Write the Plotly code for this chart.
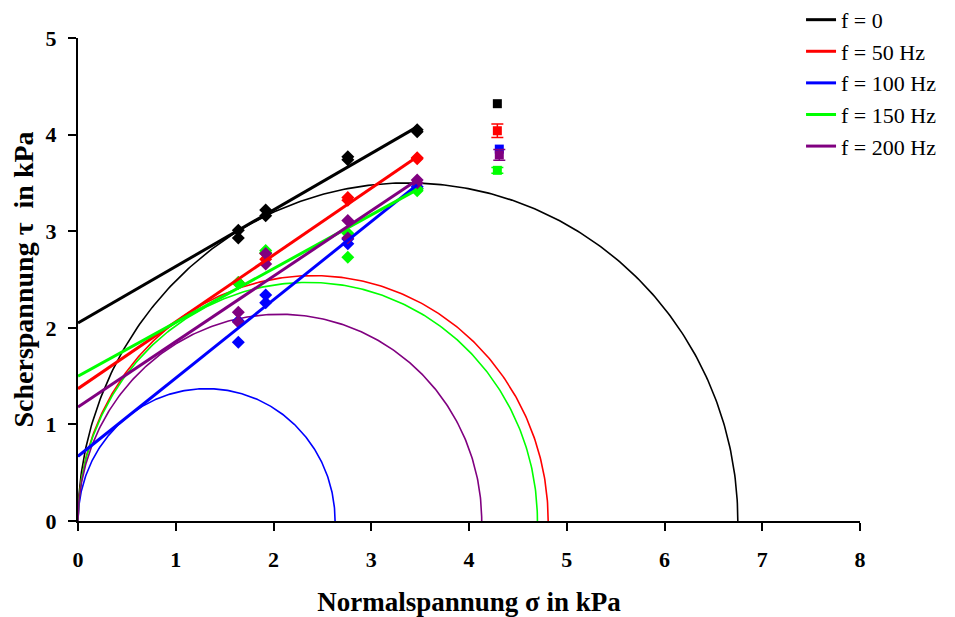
import numpy as np
import plotly.graph_objects as go

# ---------------- data ----------------
names = ["f = 0", "f = 50 Hz", "f = 100 Hz", "f = 150 Hz", "f = 200 Hz"]
colors = ["#000000", "#ff0000", "#0000ff", "#00ff00", "#800080"]

# measured points (normal stress, shear stress) in kPa
sigma_pts = [1.64, 1.64, 1.92, 1.92, 2.76, 2.76, 3.47, 3.47]
tau_f0 = [3.01, 2.93, 3.22, 3.16, 3.77, 3.74, 4.05, 4.03]
tau_f50 = [2.47, 2.46, 2.77, 2.71, 3.35, 3.32, 3.76, 3.75]
tau_f100 = [2.07, 1.85, 2.34, 2.26, 2.92, 2.87, 3.46, 3.44]
tau_f150 = [2.47, 2.46, 2.80, 2.78, 2.98, 2.73, 3.44, 3.42]
tau_f200 = [2.16, 2.06, 2.77, 2.66, 3.11, 2.93, 3.53, 3.50]
tau_pts = [tau_f0, tau_f50, tau_f100, tau_f150, tau_f200]

# yield loci (linear fits): start / end of each line
line_sigma = [0.0, 3.47]
line_tau_start = [2.05, 1.37, 0.67, 1.50, 1.18]
line_tau_end = [4.08, 3.77, 3.48, 3.43, 3.53]

# Mohr circles: major principal stress and peak height
circle_sigma1 = [6.75, 4.81, 2.63, 4.70, 4.13]
circle_peak = [3.50, 2.54, 1.37, 2.47, 2.14]

# end points (squares with error bars)
end_sigma = [4.29, 4.29, 4.31, 4.29, 4.31]
end_tau = [4.32, 4.04, 3.85, 3.63, 3.79]
end_err = [0.0, 0.07, 0.0, 0.03, 0.055]

x_ticks = [0, 1, 2, 3, 4, 5, 6, 7, 8]
y_ticks = [0, 1, 2, 3, 4, 5]

FONT = "Liberation Serif"

fig = go.Figure()

# Mohr semicircles
for i in range(5):
    r = circle_sigma1[i] / 2.0
    t = np.linspace(np.pi, 0, 300)
    xs = r + r * np.cos(t)
    ys = circle_peak[i] * np.sin(t)
    fig.add_trace(go.Scatter(x=xs, y=ys, mode="lines",
                             line=dict(color=colors[i], width=1.6),
                             showlegend=False, hoverinfo="skip"))

# measured points
for i in range(5):
    fig.add_trace(go.Scatter(x=sigma_pts, y=tau_pts[i], mode="markers",
                             marker=dict(symbol="diamond", size=10, color=colors[i]),
                             showlegend=False))

# yield loci
for i in range(5):
    fig.add_trace(go.Scatter(x=line_sigma, y=[line_tau_start[i], line_tau_end[i]],
                             mode="lines", name=names[i],
                             line=dict(color=colors[i], width=3)))

# end points with error bars
for i in range(5):
    fig.add_trace(go.Scatter(x=[end_sigma[i]], y=[end_tau[i]], mode="markers",
                             marker=dict(symbol="square", size=9, color=colors[i]),
                             error_y=dict(type="data", array=[end_err[i]],
                                          visible=end_err[i] > 0,
                                          color=colors[i], thickness=1.5, width=6),
                             showlegend=False))

fig.update_layout(
    width=947, height=609,
    margin=dict(l=70, r=95, t=30, b=96, autoexpand=False),
    plot_bgcolor="white", paper_bgcolor="white",
    font=dict(family=FONT, color="black"),
    legend=dict(x=0.9246, y=1.081, xanchor="left", yanchor="top",
                font=dict(family=FONT, size=22, color="black"),
                bgcolor="rgba(0,0,0,0)", tracegroupgap=0, itemwidth=30),
    xaxis=dict(range=[0, 8], tickvals=x_ticks, ticktext=[str(v) for v in x_ticks],
               showgrid=False, zeroline=False, showline=True, linecolor="black",
               linewidth=2, ticks="outside", ticklen=8, tickwidth=2, tickcolor="black",
               ticklabelstandoff=10, automargin=False,
               tickfont=dict(family=FONT, size=22, color="black", weight="bold"),
               title=dict(text="<b>Normalspannung σ in kPa</b>",
                          font=dict(family=FONT, size=27, color="black"), standoff=22)),
    yaxis=dict(range=[0, 5], tickvals=y_ticks, ticktext=[str(v) for v in y_ticks],
               showgrid=False, zeroline=False, showline=True, linecolor="black",
               linewidth=2, ticks="outside", ticklen=8, tickwidth=2, tickcolor="black",
               ticklabelstandoff=7, automargin=False,
               tickfont=dict(family=FONT, size=22, color="black", weight="bold"),
               title=dict(text="<b>Scherspannung τ  in kPa</b>",
                          font=dict(family=FONT, size=28, color="black"), standoff=8)),
)

fig.write_html("out.html")
